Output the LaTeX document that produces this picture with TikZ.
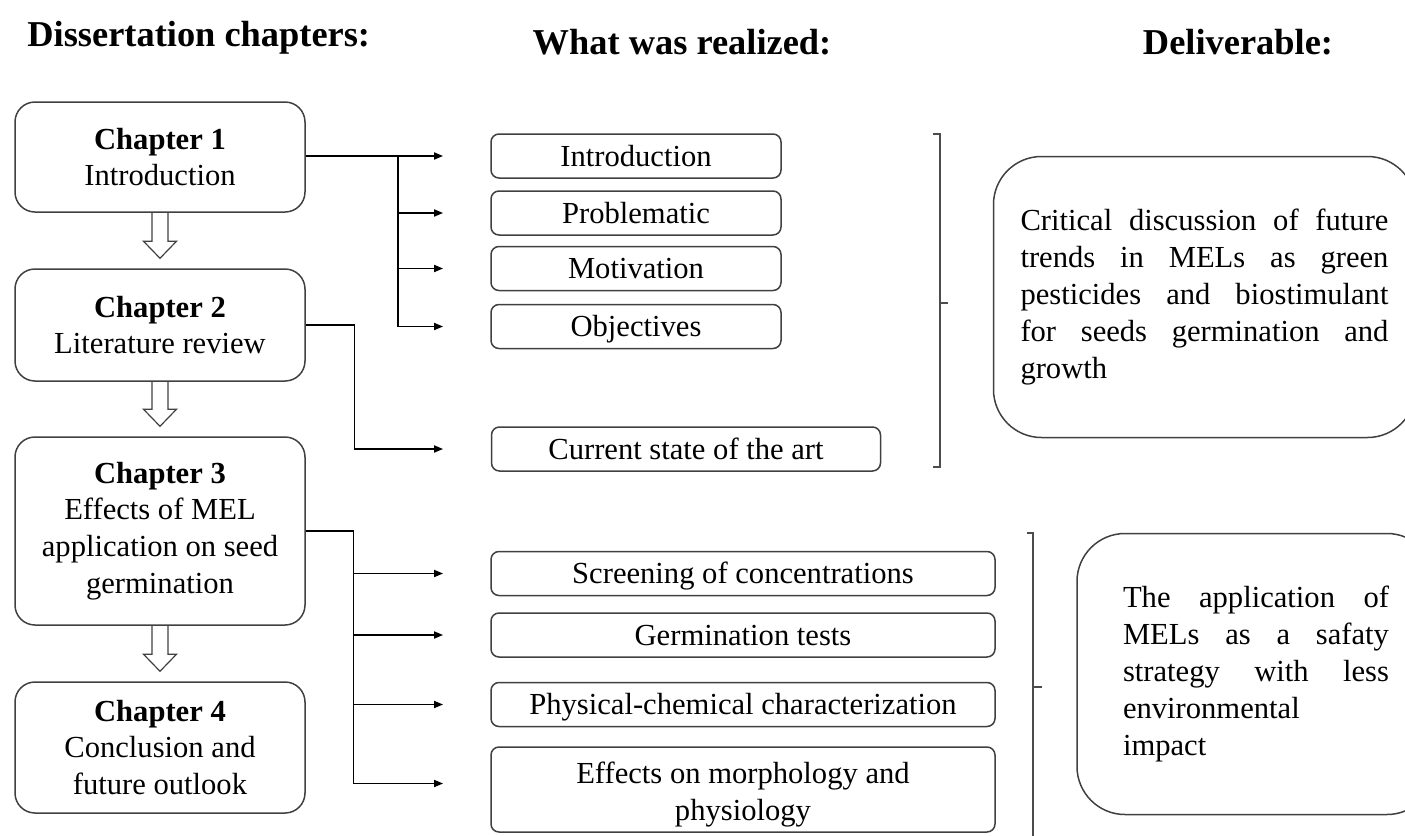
\documentclass[tikz,border=0pt]{standalone}
\usepackage{fontspec}
\setmainfont{Liberation Serif}
\usetikzlibrary{positioning, calc, arrows.meta}
\newcommand{\txt}{\fontsize{15.3}{18.4}\selectfont}
\newcommand{\hdr}{\fontsize{18.2}{21}\selectfont\bfseries}
\begin{document}
\begin{tikzpicture}[x=0.5pt, y=-0.5pt,
    chapbox/.style={draw=black!75, line width=0.75pt, rounded corners=10pt, minimum width=145pt, align=center, font=\txt, inner sep=0pt},
    taskbox/.style={draw=black!75, line width=0.75pt, rounded corners=4pt, minimum height=22pt, font=\txt, inner sep=0pt, text height=10.6pt, text depth=0.5pt},
    delbox/.style={draw=black!75, line width=0.75pt, rounded corners=24pt, align=justify, font=\txt, inner ysep=0pt},
    link/.style={line width=0.65pt},
    arr/.style={link, -{Triangle[length=4.5pt, width=3.6pt]}},
    hollow/.style={draw=black!75, line width=0.6pt},
    bracket/.style={draw=black!70, line width=0.65pt}]
    \useasboundingbox (0,0) rectangle (1405,836);
    \clip (0,0) rectangle (1405,836);
    %titoli
    \node[font=\hdr, anchor=base west, inner sep=0pt] (h1) at (27,46) {Dissertation chapters:};
    \node[font=\hdr, anchor=base, inner sep=0pt] (h2) at (682,54) {What was realized:};
    \node[font=\hdr, anchor=base, inner sep=0pt] (h3) at (1238,54) {Deliverable:};
    %capitoli
    \node[chapbox, minimum height=55pt] (c1) at (160,157) {\textbf{Chapter 1}\\Introduction};
    \node[chapbox, minimum height=56pt] (c2) at (160,325) {\textbf{Chapter 2}\\Literature review};
    \node[chapbox, minimum height=94pt] (c3) at (160,531) {\textbf{Chapter 3}\\Effects of MEL\\application on seed\\germination};
    \node[chapbox, minimum height=65.5pt] (c4) at (160,747.5) {\textbf{Chapter 4}\\Conclusion and\\future outlook};
    %frecce vuote tra i capitoli
    \foreach \a/\b in {c1/c2, c2/c3, c3/c4}
        \draw[hollow] ($(\a.south)+(-8,0)$) -- ($(\b.north)+(-8,-27)$) -- ++(-8.5,0) -- ($(\b.north)+(0,-10)$)
            -- ($(\b.north)+(16.5,-27)$) -- ++(-8.5,0) -- ($(\a.south)+(8,0)$);
    %attivita
    \node[taskbox, minimum width=145pt] (intro) at (636,156) {Introduction};
    \node[taskbox, minimum width=145pt] (prob) at (636,213) {Problematic};
    \node[taskbox, minimum width=145pt] (motiv) at (636,268.5) {Motivation};
    \node[taskbox, minimum width=145pt] (obj) at (636,326.5) {Objectives};
    \node[taskbox, minimum width=194.5pt] (art) at (686,449) {Current state of the art};
    \node[taskbox, minimum width=252pt] (screen) at (743,573.5) {Screening of concentrations};
    \node[taskbox, minimum width=252pt] (germ) at (743,635) {Germination tests};
    \node[taskbox, minimum width=252pt] (phys) at (743,704.5) {Physical-chemical characterization};
    \node[chapbox, rounded corners=4pt, minimum width=252pt, minimum height=42.5pt] (morph) at (743,789.5)
        {\rule{0pt}{15.5pt}Effects on morphology and\\physiology};
    %punte delle frecce
    \coordinate (tx) at (443,0);
    \coordinate (tr1) at (398,0);
    %collegamenti capitolo 1
    \draw[arr] (c1.east |- intro.west) -- (intro.west -| tx);
    \draw[link] (intro.west -| tr1) -- (obj.west -| tr1);
    \foreach \n in {prob, motiv, obj}
        \draw[arr] (\n.west -| tr1) -- (\n.west -| tx);
    %collegamento capitolo 2
    \draw[arr] (c2.east) -- ++(49,0) |- (art.west -| tx);
    %collegamenti capitolo 3
    \draw[link] (c3.east) -- ++(48,0) coordinate (tr3) -- ($(tr3 |- morph.west)+(0,-6)$);
    \foreach \n in {screen, germ, phys}
        \draw[arr] (\n.west -| tr3) -- (\n.west -| tx);
    \draw[arr] ($(morph.west -| tr3)+(0,-6)$) -- ($(morph.west -| tx)+(0,-6)$);
    %parentesi
    \draw[bracket] (933,134) -- (940,134) -- (940,467) -- (933,467);
    \draw[bracket] (940,303) -- (948,303);
    \draw[bracket] (1027,533) -- (1033,533) -- (1033,850);
    \draw[bracket] (1033,687) -- (1042,687);
    %risultati
    \node[delbox, text width=184pt, inner xsep=13.5pt, minimum height=140.5pt] (d1) at (1204.5,297)
        {Critical discussion of future\linebreak trends in MELs as green\linebreak pesticides and biostimulant\linebreak for seeds germination and\linebreak growth};
    \node[delbox, text width=133pt, inner xsep=23pt, minimum height=140.5pt] (d2) at (1256,674)
        {The application of\linebreak MELs as a safaty\linebreak strategy with less\linebreak environmental\\impact};
\end{tikzpicture}
\end{document}
